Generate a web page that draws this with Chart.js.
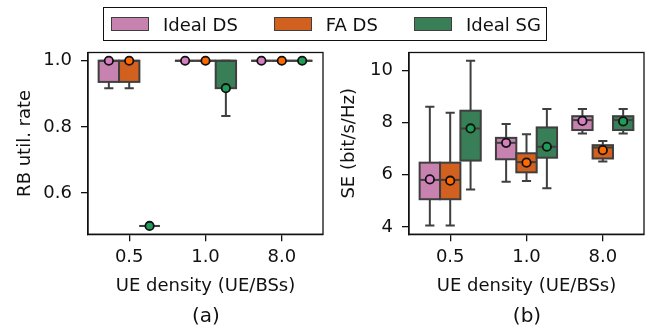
<!DOCTYPE html>
<html>
<head>
<meta charset="utf-8">
<script src="https://cdn.jsdelivr.net/npm/chart.js@4.4.1/dist/chart.umd.min.js"></script>
<style>
  body { margin: 0; background: #fff; font-family: "DejaVu Sans", sans-serif; }
  #wrap { position: relative; width: 657px; height: 331px; overflow: hidden; }
  canvas { position: absolute; top: 0; }
  #rbChart { left: 0; }
  #seChart { left: 330px; }
  #legend {
    position: absolute; left: 103px; top: 7px; width: 442px; height: 32px;
    border: 1.5px solid #111; display: flex; align-items: center; font-size: 18px; color: #111;
  }
  .item { display: flex; align-items: center; margin-right: 36px; }
  .item:first-child { margin-left: 7px; }
  .item:last-child { margin-right: 0; }
  .patch { width: 36px; height: 12px; border: 1.5px solid #3f3f3f; margin-right: 14px; }
  .sub { position: absolute; top: 303px; font-size: 20px; color: #111; width: 60px; text-align: center; }
</style>
</head>
<body>
<div id="wrap">
  <canvas id="rbChart" width="330" height="331"></canvas>
  <canvas id="seChart" width="327" height="331"></canvas>
  <div id="legend"></div>
  <div class="sub" style="left:176px">(a)</div>
  <div class="sub" style="left:497px">(b)</div>
</div>
<script>
// categories and series
const densities = ['0.5', '1.0', '8.0'];
const schemes = ['Ideal DS', 'FA DS', 'Ideal SG'];

// box stats per density: [low whisker, Q1, median, Q3, high whisker]
const rbIdealDS = [[0.917, 0.936, 1.0, 1.0, 1.0], [1.0, 1.0, 1.0, 1.0, 1.0], [1.0, 1.0, 1.0, 1.0, 1.0]];
const rbFADS    = [[0.917, 0.936, 1.0, 1.0, 1.0], [1.0, 1.0, 1.0, 1.0, 1.0], [1.0, 1.0, 1.0, 1.0, 1.0]];
const rbIdealSG = [[0.5, 0.5, 0.5, 0.5, 0.5], [0.833, 0.917, 1.0, 1.0, 1.0], [1.0, 1.0, 1.0, 1.0, 1.0]];
const rbMeanIdealDS = [1.0, 1.0, 1.0];
const rbMeanFADS    = [1.0, 1.0, 1.0];
const rbMeanIdealSG = [0.5, 0.917, 1.0];

const seIdealDS = [[4.05, 5.06, 5.80, 6.46, 8.60], [5.73, 6.59, 7.22, 7.41, 7.94], [7.58, 7.71, 8.09, 8.24, 8.52]];
const seFADS    = [[4.05, 5.06, 5.80, 6.46, 8.37], [5.76, 6.09, 6.48, 6.82, 7.55], [6.50, 6.62, 7.04, 7.13, 7.29]];
const seIdealSG = [[5.43, 6.54, 7.77, 8.45, 10.36], [5.48, 6.65, 7.07, 7.81, 8.52], [7.58, 7.71, 8.09, 8.24, 8.52]];
const seMeanIdealDS = [5.82, 7.22, 8.06];
const seMeanFADS    = [5.77, 6.46, 6.94];
const seMeanIdealSG = [7.77, 7.07, 8.04];

const rbTicks = [0.6, 0.8, 1.0];
const seTicks = [4, 6, 8, 10];

// styling
const boxColors = ['#c882b0', '#d2601f', '#387e57'];
const markerColors = ['#d47fbf', '#ff6a00', '#1f9c58'];
const edgeColor = '#3f3f3f';
const hueOffsets = [-0.267, 0, 0.267];
const boxWidth = 0.267;
const capWidth = 0.12;
const FONT = '"DejaVu Sans", sans-serif';

// legend
const legendEl = document.getElementById('legend');
schemes.forEach((s, i) => {
  legendEl.insertAdjacentHTML('beforeend',
    `<div class="item"><div class="patch" style="background:${boxColors[i]}"></div><span>${s}</span></div>`);
});

// draws boxes, whiskers and medians from the stats via the scales
const boxPlugin = {
  id: 'boxes',
  beforeDatasetsDraw(chart) {
    const { ctx, scales: { x, y } } = chart;
    const stats = chart.options.plugins.boxes.stats;
    ctx.save();
    ctx.lineWidth = 2;
    ctx.strokeStyle = edgeColor;
    stats.forEach((series, h) => {
      series.forEach((st, i) => {
        const [lo, q1, med, q3, hi] = st;
        const cx = i + hueOffsets[h];
        const xl = x.getPixelForValue(cx - boxWidth / 2);
        const xr = x.getPixelForValue(cx + boxWidth / 2);
        const xc = x.getPixelForValue(cx);
        const cl = x.getPixelForValue(cx - capWidth / 2);
        const cr = x.getPixelForValue(cx + capWidth / 2);
        // whiskers
        ctx.beginPath();
        ctx.moveTo(xc, y.getPixelForValue(q3)); ctx.lineTo(xc, y.getPixelForValue(hi));
        ctx.moveTo(xc, y.getPixelForValue(q1)); ctx.lineTo(xc, y.getPixelForValue(lo));
        ctx.moveTo(cl, y.getPixelForValue(hi)); ctx.lineTo(cr, y.getPixelForValue(hi));
        ctx.moveTo(cl, y.getPixelForValue(lo)); ctx.lineTo(cr, y.getPixelForValue(lo));
        ctx.stroke();
        // box
        const yt = y.getPixelForValue(q3);
        const yb = y.getPixelForValue(q1);
        ctx.fillStyle = boxColors[h];
        ctx.fillRect(xl, yt, xr - xl, yb - yt);
        ctx.strokeRect(xl, yt, xr - xl, yb - yt);
        // median
        const ym = y.getPixelForValue(med);
        ctx.beginPath();
        ctx.moveTo(xl, ym); ctx.lineTo(xr, ym);
        ctx.stroke();
      });
    });
    ctx.restore();
  },
  afterDraw(chart) {
    const { ctx, chartArea: a } = chart;
    ctx.save();
    ctx.strokeStyle = '#111';
    ctx.lineWidth = 1.3;
    ctx.strokeRect(a.left, a.top, a.right - a.left, a.bottom - a.top);
    ctx.restore();
  }
};

function meanSets(means) {
  return means.map((m, h) => ({
    label: schemes[h],
    data: m.map((v, i) => ({ x: i + hueOffsets[h], y: v })),
    backgroundColor: markerColors[h],
    borderColor: '#111',
    borderWidth: 1.8,
    pointRadius: 4.2
  }));
}

function makeChart(id, stats, means, yMin, yMax, yTicks, yTitle, yWidth, rightPad, titlePad, decimals) {
  return new Chart(document.getElementById(id), {
    type: 'scatter',
    data: { datasets: meanSets(means) },
    plugins: [boxPlugin],
    options: {
      responsive: false,
      animation: false,
      layout: { padding: { top: 52.5, right: rightPad, left: 0, bottom: 0 } },
      plugins: {
        legend: { display: false },
        tooltip: { enabled: false },
        boxes: { stats: stats }
      },
      scales: {
        x: {
          type: 'linear', min: -0.54, max: 2.54,
          afterBuildTicks: s => { s.ticks = densities.map((d, i) => ({ value: i })); },
          afterFit: s => { s.height = 331 - 234.2; },
          ticks: { color: '#111', font: { family: FONT, size: 18 }, padding: 5,
                   callback: v => densities[v] },
          grid: { drawOnChartArea: false, tickLength: 7, color: '#111', lineWidth: 1.3 },
          border: { color: '#111', width: 1.3 },
          title: { display: true, text: 'UE density (UE/BSs)', color: '#111',
                   font: { family: FONT, size: 18 }, padding: { top: 0, bottom: 34 } }
        },
        y: {
          min: yMin, max: yMax,
          afterBuildTicks: s => { s.ticks = yTicks.map(v => ({ value: v })); },
          afterFit: s => { s.width = yWidth; },
          ticks: { color: '#111', font: { family: FONT, size: 18 }, padding: 9,
                   callback: v => v.toFixed(decimals) },
          grid: { drawOnChartArea: false, tickLength: 7, color: '#111', lineWidth: 1.3 },
          border: { color: '#111', width: 1.3 },
          title: { display: true, text: yTitle, color: '#111',
                   font: { family: FONT, size: 18 }, padding: { top: titlePad, bottom: 0 } }
        }
      }
    }
  });
}

makeChart('rbChart', [rbIdealDS, rbFADS, rbIdealSG], [rbMeanIdealDS, rbMeanFADS, rbMeanIdealSG],
  0.475, 1.025, rbTicks, 'RB util. rate', 88, 7, 15, 1);
makeChart('seChart', [seIdealDS, seFADS, seIdealSG], [seMeanIdealDS, seMeanFADS, seMeanIdealSG],
  3.72, 10.68, seTicks, 'SE (bit/s/Hz)', 79, 13, 9, 0);
</script>
</body>
</html>
